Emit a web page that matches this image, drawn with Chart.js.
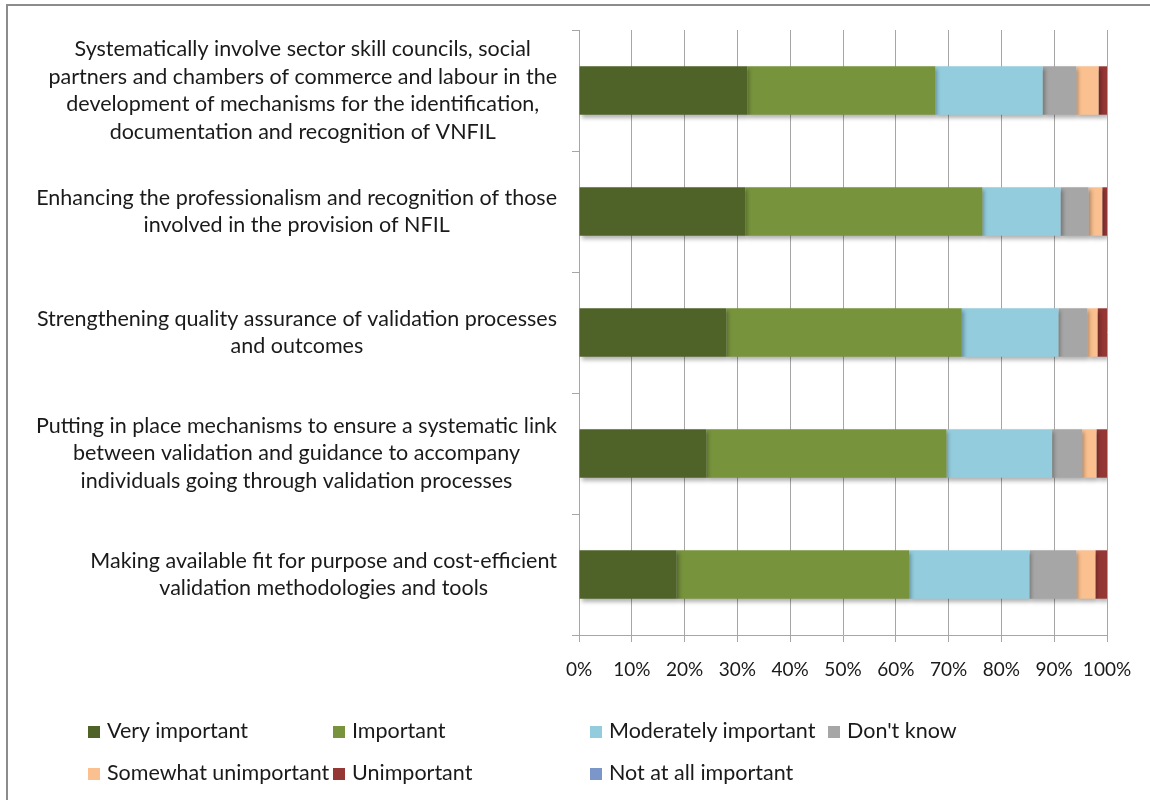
<!DOCTYPE html>
<html>
<head>
<meta charset="utf-8">
<script src="https://cdn.jsdelivr.net/npm/chart.js@4.4.1/dist/chart.umd.min.js"></script>
<style>
  body { margin: 0; background: #fff; }
  #wrap { position: relative; width: 1150px; height: 800px; overflow: hidden; }
  #frame { position: absolute; left: 6px; top: 4px; width: 1200px; height: 900px;
           border-top: 2px solid #8c8c8c; border-left: 2px solid #8c8c8c; }
  .lg { position: absolute; font: 21.5px Lato, sans-serif; color: #1a1a1a; white-space: nowrap; }
  .lg span { display: inline-block; width: 12px; height: 12px; margin-right: 7px; vertical-align: 0px; }
</style>
</head>
<body>
<div id="wrap">
  <div id="frame"></div>
  <canvas id="canvas" width="1150" height="800"></canvas>
  <div id="legend"></div>
</div>
<script>
const categories = [
    ['Systematically involve sector skill councils, social', 'partners and chambers of commerce and labour in the', 'development of mechanisms for the identification,', 'documentation and recognition of VNFIL'],
    ['Enhancing the professionalism and recognition of those', 'involved in the provision of NFIL'],
    ['Strengthening quality assurance of validation processes', 'and outcomes'],
    ['Putting in place mechanisms to ensure a systematic link', 'between validation and guidance to accompany', 'individuals going through validation processes'],
    ['Making available fit for purpose and cost-efficient', 'validation methodologies and tools']
];
const seriesNames = ['Very important', 'Important', 'Moderately important', "Don't know", 'Somewhat unimportant', 'Unimportant', 'Not at all important'];
const seriesColors = ['#4f6228', '#77933c', '#93cddd', '#a6a6a6', '#fac090', '#953735', '#7b96c8'];

const veryImportant     = [31.9, 31.5, 27.9, 24.1, 18.5];
const important         = [35.6, 44.9, 44.6, 45.5, 44.0];
const moderately        = [20.3, 14.8, 18.3, 20.0, 22.8];
const dontKnow          = [6.4, 5.3, 5.5, 5.7, 8.9];
const somewhatUnimp     = [4.2, 2.6, 1.9, 2.7, 3.6];
const unimportant       = [1.6, 0.9, 1.8, 2.0, 2.2];
const notAtAll          = [0, 0, 0, 0, 0];

const xTicks = [0, 10, 20, 30, 40, 50, 60, 70, 80, 90, 100];

const FONT = '21.5px Lato, sans-serif';
const seriesData = [veryImportant, important, moderately, dontKnow, somewhatUnimp, unimportant, notAtAll];

// bar shadow like the excel original
const shadowPlugin = {
    id: 'barShadow',
    beforeDatasetsDraw(chart) {
        const ctx = chart.ctx;
        ctx.save();
        ctx.shadowColor = 'rgba(0,0,0,0.3)';
        ctx.shadowBlur = 4;
        ctx.shadowOffsetX = 2;
        ctx.shadowOffsetY = 3;
    },
    afterDatasetsDraw(chart) {
        chart.ctx.restore();
    }
};

// category labels: each block centred on itself, block right-aligned to the axis
const catLabelPlugin = {
    id: 'catLabels',
    afterDraw(chart) {
        const ctx = chart.ctx;
        const y = chart.scales.y;
        ctx.save();
        ctx.font = FONT;
        ctx.fillStyle = '#1a1a1a';
        ctx.textAlign = 'center';
        ctx.textBaseline = 'middle';
        categories.forEach((lines, i) => {
            const yc = y.getPixelForValue(i);
            const w = Math.max(...lines.map(l => ctx.measureText(l).width));
            const xc = y.right - 22 - w / 2;
            lines.forEach((l, j) => {
                ctx.fillText(l, xc, yc + (j - (lines.length - 1) / 2) * 27.7);
            });
        });
        ctx.restore();
    }
};

const datasets = seriesNames.map((name, i) => ({
    label: name,
    data: seriesData[i],
    backgroundColor: seriesColors[i],
    borderWidth: 0,
    categoryPercentage: 1,
    barPercentage: 0.4
}));

var ctx = document.getElementById('canvas').getContext('2d');
window.myBar = new Chart(ctx, {
    type: 'bar',
    data: { labels: categories, datasets: datasets },
    plugins: [shadowPlugin, catLabelPlugin],
    options: {
        responsive: false,
        animation: false,
        indexAxis: 'y',
        layout: { padding: { top: 30, right: 43, bottom: 120, left: 0 } },
        plugins: { legend: { display: false }, tooltip: { enabled: false } },
        scales: {
            x: {
                stacked: true,
                min: 0,
                max: 100,
                afterBuildTicks: s => { s.ticks = xTicks.map(v => ({ value: v })); },
                afterFit: s => { s.height = 45; },
                grid: { color: '#a6a6a6', tickLength: 7 },
                border: { color: '#a6a6a6' },
                ticks: {
                    callback: v => v + '%',
                    font: { family: 'Lato', size: 19 },
                    color: '#1a1a1a',
                    padding: 16,
                    maxRotation: 0
                }
            },
            y: {
                stacked: true,
                afterFit: s => { s.width = 579; },
                grid: { drawOnChartArea: false, color: '#a6a6a6', tickLength: 7 },
                border: { color: '#a6a6a6' },
                ticks: { display: false }
            }
        }
    }
});

// legend laid out in columns like the original
const legendPos = [
    [88, 731], [333, 731], [590, 731], [828, 731],
    [88, 773], [333, 773], [590, 773]
];
const legend = document.getElementById('legend');
seriesNames.forEach((name, i) => {
    const d = document.createElement('div');
    d.className = 'lg';
    d.style.left = legendPos[i][0] + 'px';
    d.style.top = (legendPos[i][1] - 14) + 'px';
    d.innerHTML = '<span style="background:' + seriesColors[i] + '"></span>' + name;
    legend.appendChild(d);
});
</script>
</body>
</html>
